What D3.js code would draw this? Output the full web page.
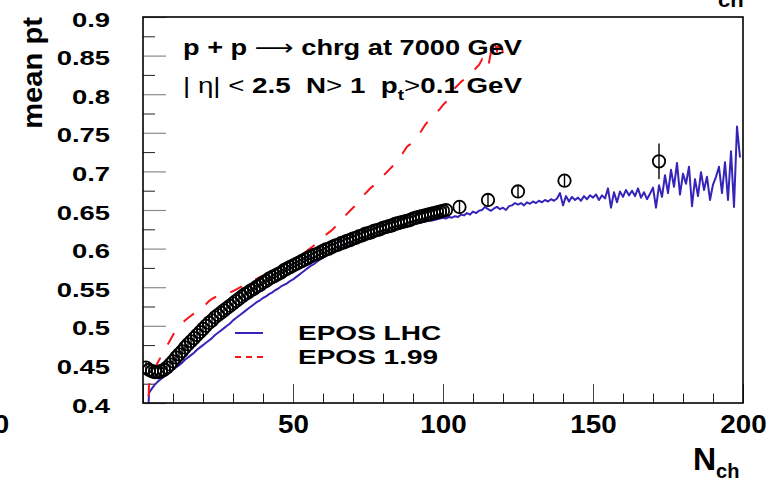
<!DOCTYPE html>
<html><head><meta charset="utf-8">
<script src="https://cdn.jsdelivr.net/npm/d3@7"></script>
<style>
html,body{margin:0;padding:0;background:#fff;}
svg{display:block;font-family:"Liberation Sans",Arial,Helvetica,sans-serif;}
text{white-space:pre;}
</style></head><body>
<svg id="chart" width="769" height="478"></svg>
<script>
// ---- data -------------------------------------------------------------
// measured mean pt, fine bins N = 1 .. 101
const dataStartN = 1;
const dataMeanPt = [
  0.446,0.443,0.441,0.440,0.440,0.441,0.443,0.446,0.450,0.454,
  0.459,0.463,0.467,0.472,0.476,0.480,0.484,0.488,0.492,0.496,
  0.500,0.504,0.507,0.511,0.514,0.517,0.520,0.523,0.526,0.529,
  0.532,0.535,0.538,0.541,0.543,0.546,0.548,0.551,0.553,0.556,
  0.558,0.561,0.563,0.565,0.567,0.569,0.572,0.574,0.576,0.578,
  0.580,0.582,0.584,0.586,0.588,0.590,0.592,0.593,0.595,0.597,
  0.599,0.600,0.602,0.604,0.605,0.607,0.608,0.610,0.611,0.613,
  0.614,0.616,0.617,0.619,0.620,0.621,0.623,0.624,0.625,0.627,
  0.628,0.629,0.630,0.632,0.633,0.634,0.635,0.636,0.637,0.639,
  0.640,0.641,0.642,0.643,0.644,0.645,0.646,0.647,0.648,0.649,
  0.650
];
const dataErr = 0.002;
// measured mean pt, wide bins at high multiplicity
const sparseN      = [105.5, 115, 125, 140.5, 172];
const sparseMeanPt = [0.654, 0.663, 0.674, 0.688, 0.713];
const sparseErr    = [0.004, 0.005, 0.006, 0.008, 0.023];

// EPOS LHC, N = 1 .. 199
const lhcStartN = 1;
const lhcMeanPt = [
  0.300,0.413,0.419,0.424,0.428,0.431,0.434,0.437,0.440,0.443,
  0.446,0.449,0.452,0.456,0.459,0.462,0.465,0.469,0.472,0.475,
  0.478,0.481,0.484,0.488,0.491,0.494,0.497,0.500,0.503,0.507,
  0.510,0.513,0.516,0.519,0.522,0.525,0.528,0.531,0.533,0.536,
  0.538,0.541,0.543,0.546,0.548,0.551,0.553,0.555,0.558,0.560,
  0.563,0.566,0.569,0.572,0.575,0.578,0.580,0.583,0.586,0.588,
  0.591,0.593,0.595,0.597,0.598,0.600,0.602,0.603,0.605,0.606,
  0.608,0.609,0.611,0.612,0.613,0.615,0.616,0.617,0.619,0.620,
  0.621,0.622,0.623,0.625,0.626,0.627,0.628,0.629,0.630,0.631,
  0.632,0.633,0.634,0.635,0.636,0.636,0.637,0.638,0.639,0.640,
  0.639,0.641,0.640,0.642,0.641,0.644,0.643,0.646,0.644,0.648,
  0.646,0.649,0.650,0.654,0.651,0.649,0.652,0.654,0.651,0.653,
  0.650,0.655,0.656,0.659,0.657,0.659,0.656,0.660,0.658,0.661,
  0.659,0.662,0.660,0.663,0.661,0.664,0.662,0.665,0.672,0.656,
  0.668,0.661,0.667,0.663,0.666,0.662,0.668,0.664,0.669,0.666,
  0.670,0.663,0.669,0.665,0.678,0.653,0.673,0.660,0.674,0.667,
  0.676,0.669,0.675,0.668,0.678,0.666,0.673,0.664,0.671,0.679,
  0.653,0.682,0.667,0.695,0.672,0.702,0.680,0.711,0.670,0.697,
  0.684,0.706,0.655,0.690,0.668,0.699,0.676,0.693,0.663,0.683,
  0.693,0.706,0.672,0.712,0.663,0.726,0.654,0.758,0.718
];

// EPOS 1.99, N = 1 .. 120
const epos199StartN = 1;
const epos199MeanPt = [
  0.300,0.423,0.436,0.445,0.453,0.460,0.466,0.474,0.481,0.488,
  0.494,0.499,0.503,0.507,0.510,0.513,0.516,0.519,0.522,0.525,
  0.528,0.532,0.535,0.537,0.539,0.540,0.541,0.542,0.543,0.545,
  0.547,0.549,0.551,0.553,0.555,0.557,0.559,0.561,0.563,0.565,
  0.567,0.569,0.571,0.573,0.575,0.577,0.579,0.581,0.583,0.585,
  0.587,0.589,0.592,0.595,0.598,0.601,0.604,0.607,0.611,0.614,
  0.618,0.621,0.624,0.628,0.632,0.637,0.641,0.645,0.649,0.653,
  0.656,0.661,0.666,0.671,0.675,0.679,0.682,0.686,0.690,0.694,
  0.698,0.702,0.706,0.710,0.714,0.720,0.726,0.732,0.735,0.739,
  0.743,0.748,0.754,0.760,0.765,0.770,0.773,0.777,0.781,0.786,
  0.790,0.797,0.804,0.808,0.812,0.816,0.819,0.822,0.826,0.829,
  0.834,0.838,0.845,0.836,0.834,0.855,0.870,0.856,0.872,0.853
];

const xMajorTicks = [0, 50, 100, 150, 200];
const yMajorTicks = [0.4, 0.45, 0.5, 0.55, 0.6, 0.65, 0.7, 0.75, 0.8, 0.85, 0.9];
const legendLabels = ["EPOS LHC", "EPOS 1.99"];

// ---- layout -----------------------------------------------------------
const svg = d3.select("#chart");
const frame = {left: 143, right: 743, top: 17, bottom: 403};
const x = d3.scaleLinear().domain([0, 200]).range([frame.left, frame.right]);
const y = d3.scaleLinear().domain([0.4, 0.9]).range([frame.bottom, frame.top]);

const BLUE = "#3524b8", RED = "#f5151b";
const fit = (sel, factor) => sel.each(function () {
  const w = this.getComputedTextLength();
  d3.select(this).attr("textLength", w * factor).attr("lengthAdjust", "spacingAndGlyphs");
});

svg.append("clipPath").attr("id", "plotclip")
  .append("rect").attr("x", frame.left).attr("y", frame.top)
  .attr("width", frame.right - frame.left).attr("height", frame.bottom - frame.top);

// ---- axes -------------------------------------------------------------
const xMinor = d3.range(0, 201, 10).filter(v => v % 50 !== 0);
svg.append("g").attr("transform", `translate(0,${frame.bottom})`)
  .call(d3.axisBottom(x).tickValues(xMinor).tickSize(-9.5).tickFormat(""))
  .call(g => g.select(".domain").remove())
  .call(g => g.selectAll("line").attr("stroke", "#222").attr("stroke-width", 1));
const xAxis = svg.append("g").attr("transform", `translate(0,${frame.bottom})`)
  .call(d3.axisBottom(x).tickValues(xMajorTicks).tickSize(-19).tickPadding(12).tickFormat(d3.format("d")));
xAxis.select(".domain").remove();
xAxis.selectAll("line").attr("stroke", "#444").attr("stroke-width", 1);
xAxis.selectAll("text").attr("font-size", 25).attr("font-weight", "bold")
  .attr("fill", "#000").attr("font-family", '"Liberation Sans",Arial,sans-serif')
  .call(fit, 1.11);
// the zero label sits at the far left edge of the canvas
xAxis.selectAll(".tick").filter(d => d === 0).select("text").attr("x", 1 - frame.left);

const yMinor = d3.range(0.425, 0.9, 0.05);
svg.append("g").attr("transform", `translate(${frame.left},0)`)
  .call(d3.axisLeft(y).tickValues(yMinor).tickSize(-12).tickFormat(""))
  .call(g => g.select(".domain").remove())
  .call(g => g.selectAll("line").attr("stroke", "#222").attr("stroke-width", 1));
const yAxis = svg.append("g").attr("transform", `translate(${frame.left},0)`)
  .call(d3.axisLeft(y).tickValues(yMajorTicks).tickSize(-23).tickPadding(33).tickFormat(d => d3.format("")(+d.toFixed(2))));
yAxis.select(".domain").remove();
yAxis.selectAll("line").attr("stroke", "#8a8a8a").attr("stroke-width", 1.2);
yAxis.selectAll("text").attr("font-size", 20).attr("font-weight", "bold").attr("dy", "0.45em")
  .attr("fill", "#000").attr("font-family", '"Liberation Sans",Arial,sans-serif')
  .call(fit, 1.37);

// ---- model curves -----------------------------------------------------
const plot = svg.append("g").attr("clip-path", "url(#plotclip)");
const line = d3.line().x(d => x(d[0])).y(d => y(d[1]));
const lhcPts = lhcMeanPt.map((v, i) => [lhcStartN + i, v]);
const e199Pts = epos199MeanPt.map((v, i) => [epos199StartN + i, v]);

plot.append("path").datum(lhcPts).attr("d", line)
  .attr("fill", "none").attr("stroke", BLUE).attr("stroke-width", 2).attr("stroke-linejoin", "round");
plot.append("path").datum(e199Pts).attr("d", line)
  .attr("fill", "none").attr("stroke", RED).attr("stroke-width", 2).attr("stroke-dasharray", "13,15");

// ---- measured points --------------------------------------------------
const points = dataMeanPt.map((v, i) => ({n: dataStartN + i, v, e: dataErr}))
  .concat(sparseN.map((n, i) => ({n, v: sparseMeanPt[i], e: sparseErr[i]})));
const R = 6.2;
const pg = plot.append("g");
pg.selectAll("line.err").data(points).join("line").attr("class", "err")
  .attr("x1", d => x(d.n)).attr("x2", d => x(d.n))
  .attr("y1", d => Math.min(y(d.v + d.e), y(d.v) - R))
  .attr("y2", d => Math.max(y(d.v - d.e), y(d.v) + R))
  .attr("stroke", "#000").attr("stroke-width", 1.4);
pg.selectAll("circle").data(points).join("circle")
  .attr("cx", d => x(d.n)).attr("cy", d => y(d.v)).attr("r", R)
  .attr("fill", "none").attr("stroke", "#000").attr("stroke-width", 1.8);

// ---- frame ------------------------------------------------------------
svg.append("rect").attr("x", frame.left).attr("y", frame.top)
  .attr("width", frame.right - frame.left).attr("height", frame.bottom - frame.top)
  .attr("fill", "none").attr("stroke", "#000").attr("stroke-width", 1.6);

// ---- titles -----------------------------------------------------------
const t1 = svg.append("text").attr("x", 183).attr("y", 55).attr("font-size", 22).attr("font-weight", "bold");
t1.append("tspan").text("p + p ");
t1.append("tspan").attr("font-weight", "normal").attr("font-family", '"DejaVu Sans",sans-serif').text("⟶");
t1.append("tspan").text(" chrg at 7000 GeV");
t1.attr("textLength", 339).attr("lengthAdjust", "spacingAndGlyphs");

const t2 = svg.append("text").attr("x", 183).attr("y", 93).attr("font-size", 22).attr("font-weight", "bold");
t2.append("tspan").attr("font-weight", "normal").text("| η| < ");
t2.append("tspan").text("2.5  N");
t2.append("tspan").attr("font-weight", "normal").text("> ");
t2.append("tspan").text("1  p");
t2.append("tspan").attr("font-size", 15).attr("dy", 7).text("t");
t2.append("tspan").attr("font-weight", "normal").attr("dy", -7).text(">");
t2.append("tspan").text("0.1 GeV");
t2.attr("textLength", 339).attr("lengthAdjust", "spacingAndGlyphs");

svg.append("text").attr("transform", "translate(42,17) rotate(-90)")
  .attr("text-anchor", "end").attr("font-size", 27).attr("font-weight", "bold")
  .text("mean pt").call(fit, 1.08);

const nt = svg.append("text").attr("x", 693).attr("y", 470).attr("font-weight", "bold");
nt.append("tspan").attr("font-size", 32).text("N");
nt.append("tspan").attr("font-size", 20).attr("dy", 8).text("ch");

svg.append("text").attr("x", 718).attr("y", 7).attr("font-size", 20).attr("font-weight", "bold")
  .text("ch").call(fit, 1.1);

// ---- legend -----------------------------------------------------------
const legY = [333, 357];
const leg = svg.append("g");
leg.append("line").attr("x1", 235).attr("x2", 263).attr("y1", legY[0]).attr("y2", legY[0])
  .attr("stroke", BLUE).attr("stroke-width", 2);
leg.append("line").attr("x1", 235).attr("x2", 263).attr("y1", legY[1]).attr("y2", legY[1])
  .attr("stroke", RED).attr("stroke-width", 2).attr("stroke-dasharray", "6,5");
leg.selectAll("text").data(legendLabels).join("text")
  .attr("x", 298).attr("y", (d, i) => legY[i] + 7).attr("font-size", 20).attr("font-weight", "bold")
  .text(d => d).call(fit, 1.4);
</script>
</body></html>
